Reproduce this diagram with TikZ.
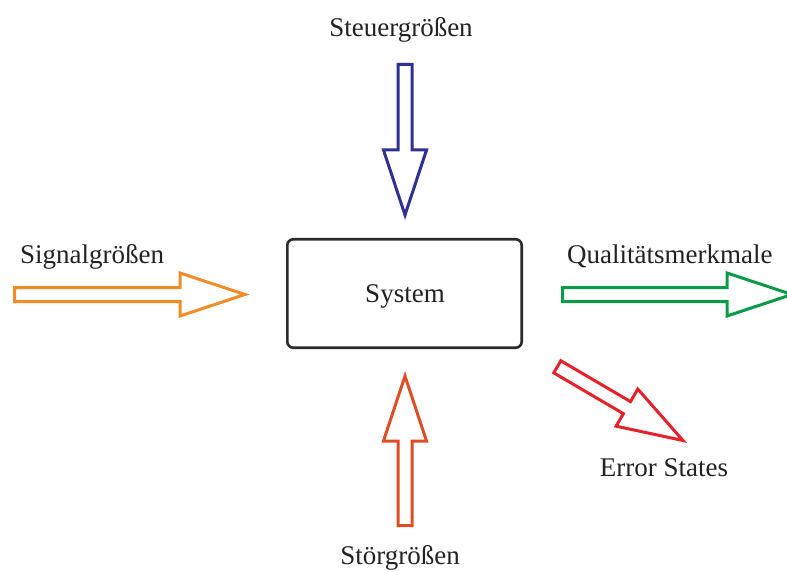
\documentclass[tikz,border=0pt]{standalone}
\usepackage{fontspec}
\setmainfont{Liberation Serif}
\usetikzlibrary{calc}

\definecolor{steuerblue}{HTML}{2E3192}
\definecolor{signalorange}{HTML}{F28C28}
\definecolor{qualgreen}{HTML}{0B9A48}
\definecolor{errorred}{HTML}{E6212A}
\definecolor{stoerorange}{HTML}{DE4E26}
\definecolor{boxgray}{HTML}{2B2B2B}
\definecolor{textgray}{HTML}{222222}

% hollow block arrow from #3 to the tip #4
\newcommand{\blockarrow}[4]{%
  \coordinate (#1h) at ($(#4)!65pt!(#3)$);
  \draw[blockarr,draw=#2]
    ($(#3)!7pt!90:(#4)$) -- ($(#1h)!7pt!90:(#4)$) -- ($(#1h)!21.5pt!90:(#4)$)
    -- (#4)
    -- ($(#1h)!21.5pt!-90:(#4)$) -- ($(#1h)!7pt!-90:(#4)$) -- ($(#3)!7pt!-90:(#4)$)
    -- cycle;
}

\begin{document}
\begin{tikzpicture}[x=1pt,y=-1pt,
  blockarr/.style={line width=3pt,line join=miter,fill=white},
  lbl/.style={inner sep=0pt,anchor=base,text=textgray,font=\fontsize{27}{32}\selectfont},
  sysbox/.style={draw=boxgray,line width=2.6pt,rounded corners=6pt,fill=white}]
\useasboundingbox (0,0) rectangle (787,572);

% central system block
\draw[sysbox] (287.3,239.3) rectangle (521.7,347.7);
\node[lbl] (system) at (405,302) {System};

% arrow end points
\coordinate (steuerA) at (405,64.5);   \coordinate (steuerB) at (405,215);
\coordinate (signalA) at (14.5,294.5); \coordinate (signalB) at (245,294.5);
\coordinate (qualA)   at (562.5,294.5);\coordinate (qualB)   at (792,294.5);
\coordinate (errA)    at (557.3,366.8);\coordinate (errB)    at (683,440.5);
\coordinate (stoerA)  at (405,525.5);  \coordinate (stoerB)  at (405,376);

\blockarrow{steuer}{steuerblue}{steuerA}{steuerB}
\blockarrow{signal}{signalorange}{signalA}{signalB}
\blockarrow{qual}{qualgreen}{qualA}{qualB}
\blockarrow{err}{errorred}{errA}{errB}
\blockarrow{stoer}{stoerorange}{stoerA}{stoerB}

% labels
\node[lbl] (steuer) at (401,37) {Steuergrößen};
\node[lbl,anchor=base west] (signal) at (20,263) {Signalgrößen};
\node[lbl,anchor=base west] (qual) at (567,263) {Qualitätsmerkmale};
\node[lbl] (err) at (664,476) {Error States};
\node[lbl] (stoer) at (400,564) {Störgrößen};
\end{tikzpicture}
\end{document}
